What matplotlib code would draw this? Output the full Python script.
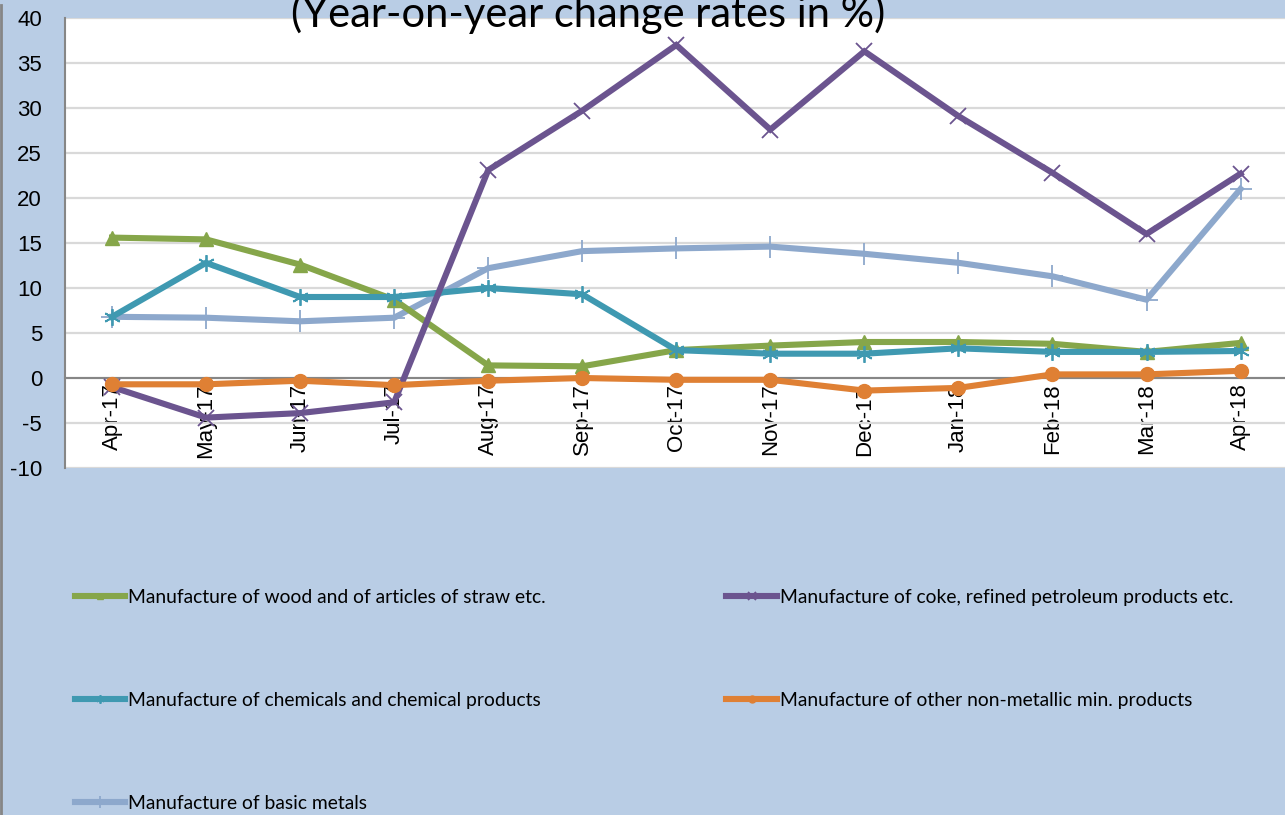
import matplotlib
matplotlib.use("Agg")
import matplotlib.pyplot as plt
from matplotlib.lines import Line2D

months = ["Apr-17", "May-17", "Jun-17", "Jul-17", "Aug-17", "Sep-17", "Oct-17",
          "Nov-17", "Dec-17", "Jan-18", "Feb-18", "Mar-18", "Apr-18"]
wood = [15.6, 15.4, 12.6, 8.7, 1.4, 1.3, 3.1, 3.6, 4.0, 4.0, 3.8, 2.9, 3.9]
coke = [-1.0, -4.4, -3.9, -2.7, 23.1, 29.7, 37.0, 27.6, 36.3, 29.1, 22.8, 16.0, 22.7]
chem = [6.8, 12.8, 9.0, 9.0, 10.0, 9.3, 3.1, 2.7, 2.7, 3.3, 2.9, 2.9, 3.0]
nonmet = [-0.7, -0.7, -0.3, -0.8, -0.3, 0.0, -0.2, -0.2, -1.4, -1.1, 0.4, 0.4, 0.8]
metals = [6.8, 6.7, 6.3, 6.7, 12.2, 14.1, 14.4, 14.6, 13.8, 12.8, 11.3, 8.7, 21.0]

labels = ["Manufacture of wood and of articles of straw etc.",
          "Manufacture of coke, refined petroleum products etc.",
          "Manufacture of chemicals and chemical products",
          "Manufacture of other non-metallic min. products",
          "Manufacture of basic metals"]
title = "(Year-on-year change rates in %)"
yticks = [-10, -5, 0, 5, 10, 15, 20, 25, 30, 35, 40]

BG = "#B9CDE5"
W, H = 1285, 815
fig = plt.figure(figsize=(W / 100, H / 100), dpi=100, facecolor=BG)
ax = fig.add_axes([65 / W, 1 - 468 / H, (W - 65) / W + 0.002, 450 / H])
ax.set_facecolor("white")

ax.spines["bottom"].set_position(("data", 0))
ax.spines["bottom"].set_color("#868686")
ax.spines["bottom"].set_linewidth(1.5)
ax.spines["bottom"].set_zorder(1.5)
ax.spines["left"].set_color("#868686")
ax.spines["left"].set_linewidth(1.5)
ax.spines["top"].set_visible(False)
ax.spines["right"].set_visible(False)

x = list(range(len(months)))
lw = 4.4
asterisk = (6, 2, 0)
specs = [
    (wood, "#86A64A", "^", 10, 1.0, 3),
    (coke, "#6B548F", "x", 11, 1.3, 5),
    (chem, "#3F99B1", asterisk, 12, 1.3, 4),
    (nonmet, "#DF8034", "o", 10, 1.0, 6),
    (metals, "#8DA8CC", "+", 16, 1.3, 2),
]
handles = []
for (vals, col, mk, ms, mew, z), lab in zip(specs, labels):
    ln, = ax.plot(x, vals, color=col, lw=lw, marker=mk, ms=ms, mew=mew,
                  mec=col, mfc=col, zorder=z, label=lab, solid_joinstyle="miter")
    handles.append(ln)

ax.set_xlim(-0.5, 12.5)
ax.set_ylim(-10, 40)
ax.grid(axis="y", color="#D9D9D9", lw=1.6, zorder=0)
ax.set_axisbelow(True)
ax.set_yticks(yticks)
ax.set_yticklabels([str(v) for v in yticks])
ax.set_xticks(x)
ax.set_xticklabels(months, rotation=90, va="top", ha="center")
ax.tick_params(axis="x", length=0, pad=4)
ax.tick_params(axis="y", length=0, pad=16.5)
for lab in ax.get_xticklabels() + ax.get_yticklabels():
    lab.set_fontfamily(["Liberation Sans", "DejaVu Sans"])
    lab.set_fontsize(16)
    lab.set_color("black")

fig.text(588 / W, 1 - 27 / H, title, ha="center", va="baseline",
         fontsize=30, family=["Lato", "DejaVu Sans"], color="black")

order = [handles[0], handles[2], handles[4], handles[1], handles[3]]
leg = fig.legend(handles=order, labels=[h.get_label() for h in order],
                 loc="upper left", bbox_to_anchor=(75 / W, 1 - 589 / H),
                 ncol=2, frameon=False, handlelength=2.6, handletextpad=0.15,
                 columnspacing=9.36, labelspacing=4.45, markerscale=0.5,
                 borderaxespad=0, borderpad=0,
                 prop={"family": ["Lato", "DejaVu Sans"], "size": 13.9})
for t in leg.get_texts():
    t.set_color("black")

fig.add_artist(Line2D([1 / W, 1 / W], [0, 1 - 5 / H], color="#868686", lw=2,
                      transform=fig.transFigure))

fig.savefig("out.png", dpi=100, facecolor=BG)
